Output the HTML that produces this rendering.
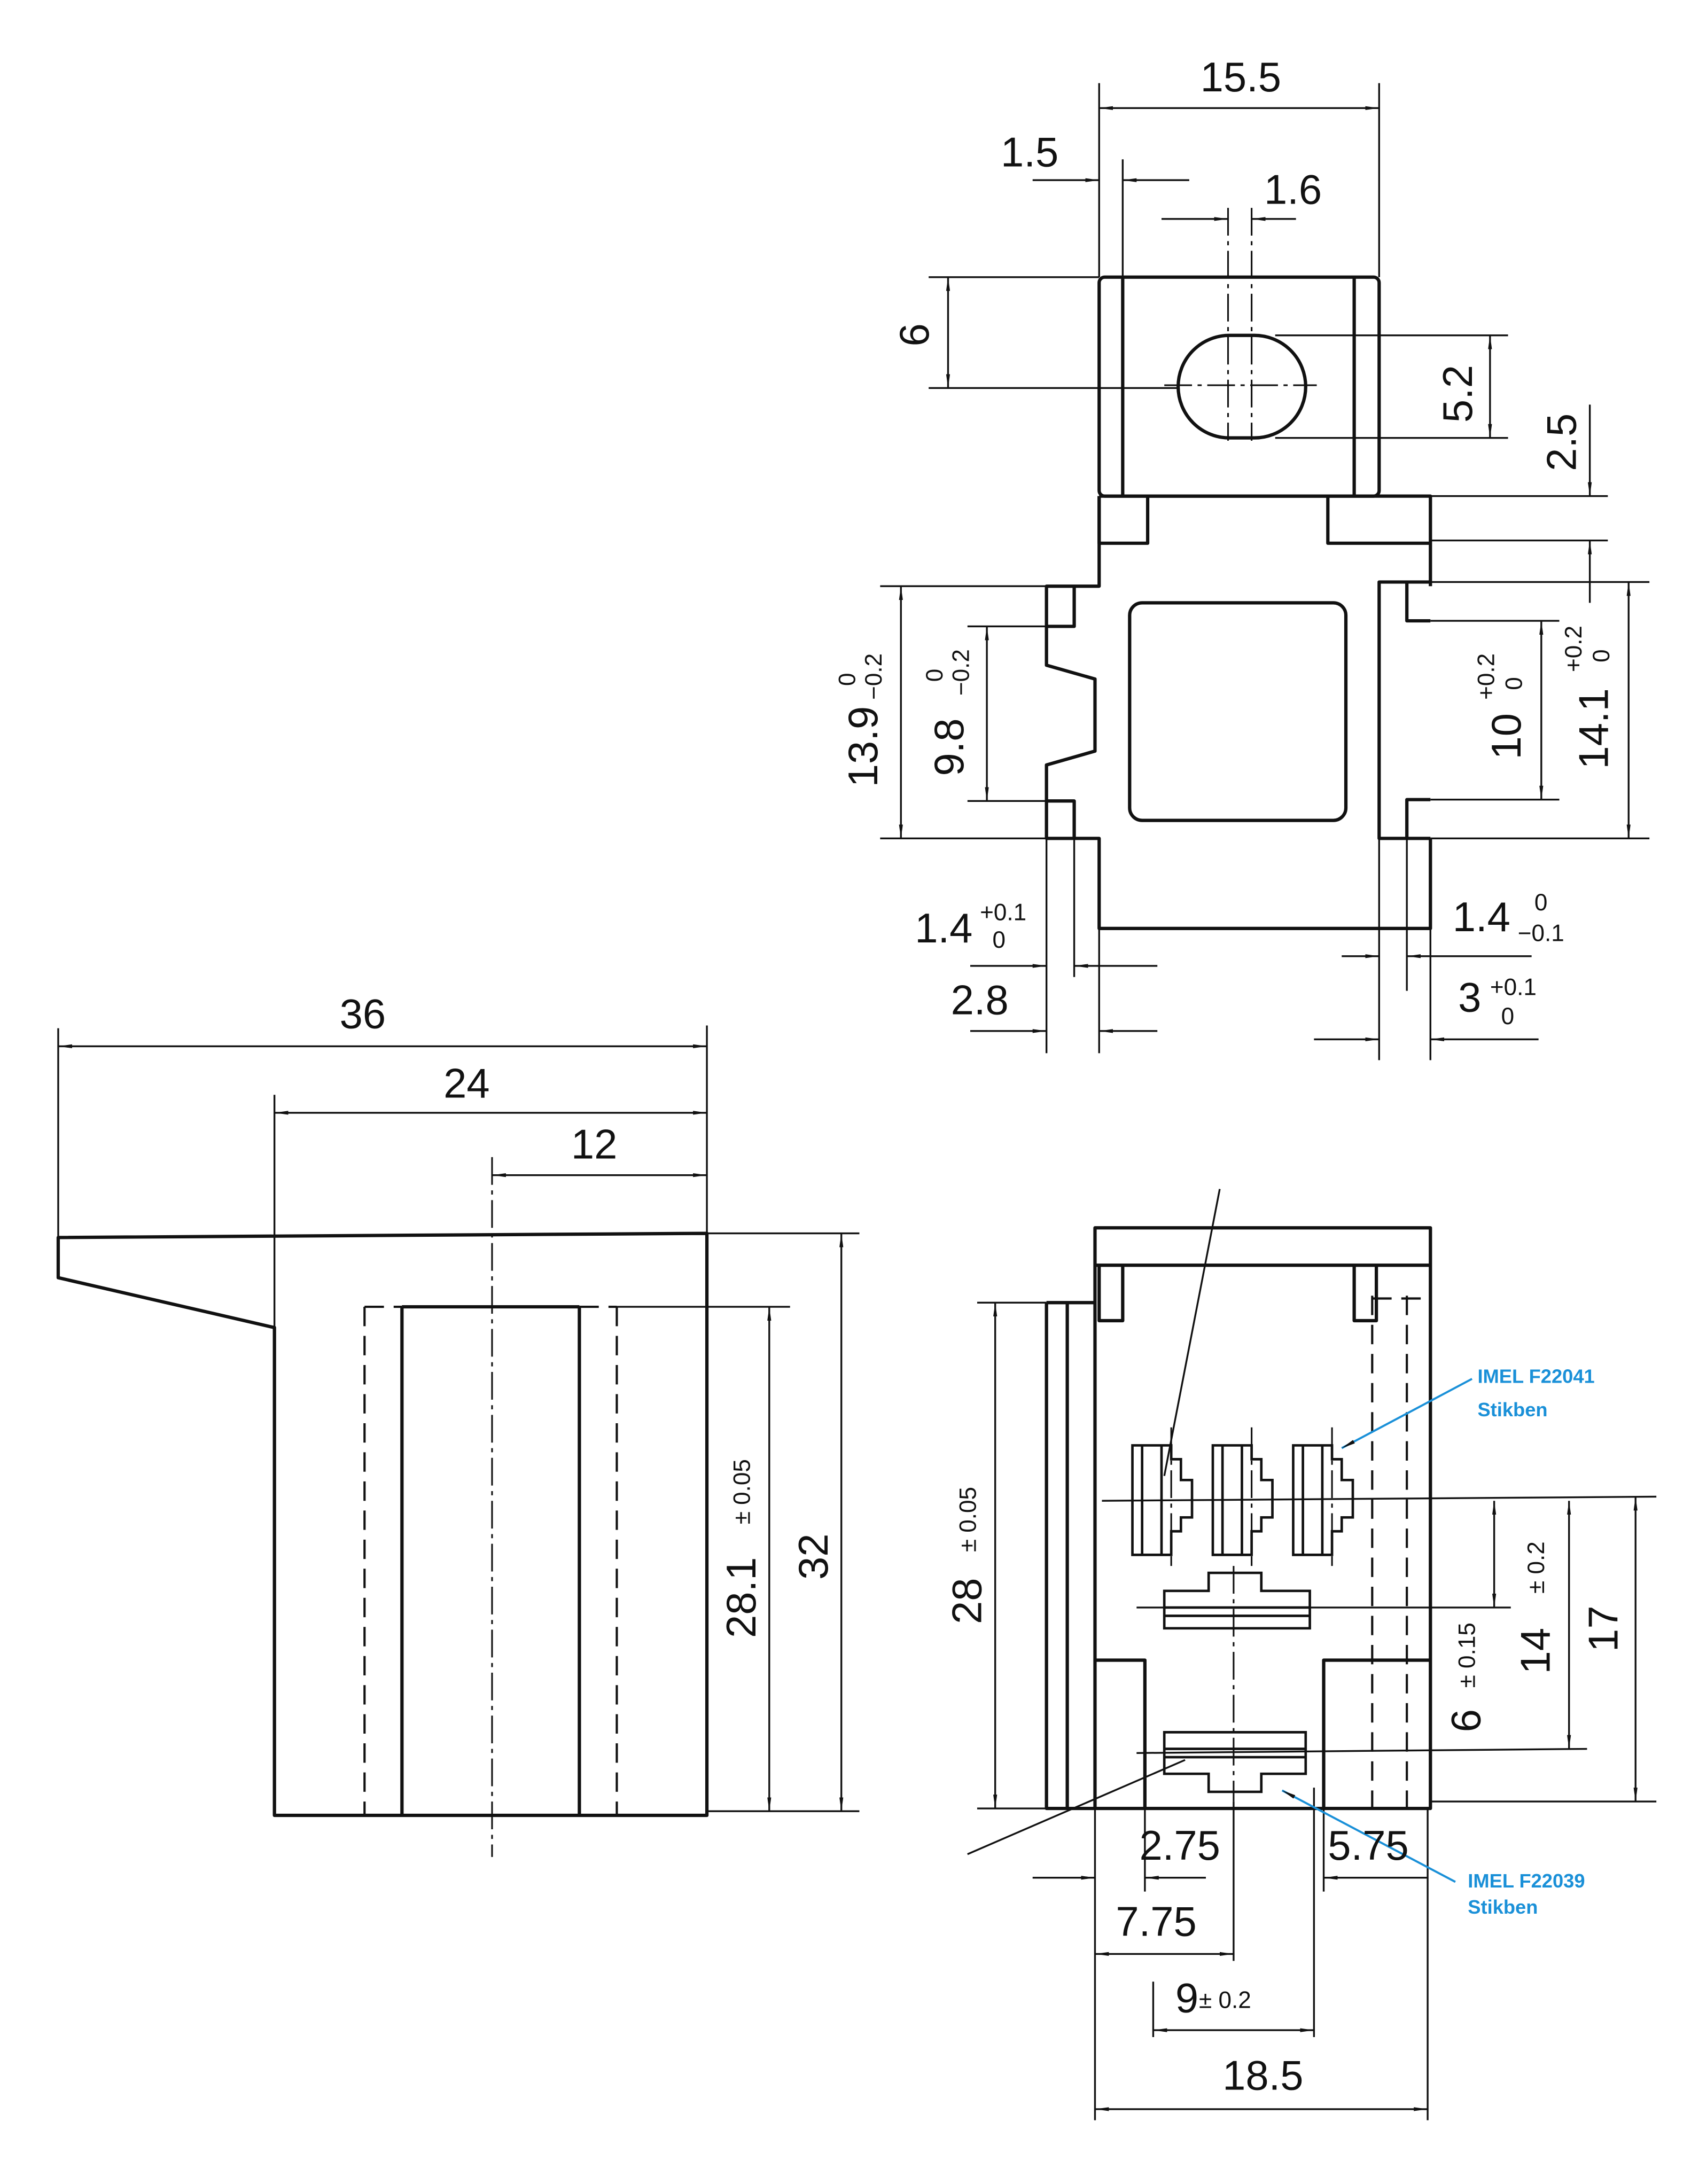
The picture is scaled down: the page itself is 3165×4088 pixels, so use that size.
<!DOCTYPE html>
<html><head><meta charset="utf-8"><style>
html,body{margin:0;padding:0;background:#fff;}
svg{display:block;}
text{font-family:"Liberation Sans",sans-serif;fill:#111;}
</style></head><body>
<svg width="3165" height="4088" viewBox="0 0 1220 1576" preserveAspectRatio="none" xmlns="http://www.w3.org/2000/svg">
<defs>
<marker id="a" viewBox="0 0 10 4" refX="10" refY="2" markerWidth="10" markerHeight="4" orient="auto-start-reverse" markerUnits="userSpaceOnUse"><path d="M0,0.6 L10,2 L0,3.4z" fill="#111"/></marker>
</defs>
<g fill="none" stroke="#111" stroke-width="2.4" stroke-linejoin="round">
<rect x="793" y="200" width="202" height="158" rx="4"/>
<line x1="810" y1="200" x2="810" y2="358"/>
<line x1="977" y1="200" x2="977" y2="358"/>
<rect x="850" y="242" width="92" height="74" rx="37"/>
<path d="M793,358 L1032,358 L1032,423 M1032,605 L1032,670 L793,670 L793,605 L755,605 L755,578 L755,552 L790,542 L790,490 L755,480 L755,423 L793,423 L793,358"/>
<path d="M793,358 L793,392 L828,392 L828,358 M958,358 L958,392 L1032,392"/>
<path d="M755,452 L775,452 L775,423 M755,578 L775,578 L775,605"/>
<path d="M1032,420 L995,420 L995,605 L1032,605 M1015,420 L1015,448 L1032,448 M1015,605 L1015,577 L1032,577"/>
<rect x="815" y="435" width="156" height="157" rx="9"/>
<path d="M42,893 L510,890 L510,1310 L198,1310 L198,958 L42,922 Z"/>
<line x1="290" y1="943" x2="290" y2="1310"/>
<line x1="418" y1="943" x2="418" y2="1310"/>
<line x1="290" y1="943" x2="418" y2="943"/>
<rect x="790" y="886" width="242" height="419"/>
<line x1="790" y1="913" x2="1032" y2="913"/>
<path d="M793,913 L793,953 L810,953 L810,913 M977,913 L977,953 L993,953 L993,913"/>
<path d="M755,940 L790,940 M755,940 L755,1305 L790,1305 M770,940 L770,1305"/>
<path d="M790,1198 L826,1198 L826,1305 M1032,1198 L955,1198 L955,1305"/>
</g>
<g fill="none" stroke="#111" stroke-width="1.8">
<g id="t"><path d="M817,1043 L845,1043 L845,1053 L852,1053 L852,1068 L860,1068 L860,1095 L852,1095 L852,1105 L845,1105 L845,1122 L817,1122 Z M824,1043 L824,1122 M838,1043 L838,1122"/></g>
<use href="#t" transform="translate(58,0)"/>
<use href="#t" transform="translate(116,0)"/>
<path d="M840,1148 L872,1148 L872,1135 L910,1135 L910,1148 L945,1148 L945,1175 L840,1175 Z M840,1160 L945,1160 M840,1166 L945,1166"/>
<path d="M840,1250 L942,1250 L942,1280 L910,1280 L910,1293 L872,1293 L872,1280 L840,1280 Z M840,1262 L942,1262 M840,1268 L942,1268"/>
</g>
<g fill="none" stroke="#111" stroke-width="1.6" stroke-dasharray="14,7">
<line x1="263" y1="943" x2="263" y2="1310"/>
<line x1="445" y1="943" x2="445" y2="1310"/>
<line x1="263" y1="943" x2="290" y2="943"/>
<line x1="418" y1="943" x2="445" y2="943"/>
<line x1="990" y1="935" x2="990" y2="1305"/>
<line x1="1015" y1="935" x2="1015" y2="1305"/>
<line x1="990" y1="937" x2="1032" y2="937"/>
</g>
<g fill="none" stroke="#111" stroke-width="1.2" stroke-dasharray="20,4,3,4">
<line x1="355" y1="835" x2="355" y2="1340"/>
<line x1="886" y1="150" x2="886" y2="318"/>
<line x1="903" y1="150" x2="903" y2="318"/>
<line x1="840" y1="278" x2="950" y2="278"/>
<line x1="845" y1="1030" x2="845" y2="1130"/>
<line x1="903" y1="1030" x2="903" y2="1130"/>
<line x1="961" y1="1030" x2="961" y2="1130"/>
<line x1="890" y1="1130" x2="890" y2="1300"/>
</g>
<g fill="none" stroke="#111" stroke-width="1.3">
<line x1="793" y1="60" x2="793" y2="200"/><line x1="995" y1="60" x2="995" y2="200"/>
<line x1="793" y1="78" x2="995" y2="78" marker-start="url(#a)" marker-end="url(#a)"/>
<line x1="810" y1="115" x2="810" y2="200"/>
<line x1="745" y1="130" x2="793" y2="130" marker-end="url(#a)"/>
<line x1="858" y1="130" x2="810" y2="130" marker-end="url(#a)"/>
<line x1="838" y1="158" x2="886" y2="158" marker-end="url(#a)"/>
<line x1="935" y1="158" x2="903" y2="158" marker-end="url(#a)"/>
<line x1="670" y1="200" x2="793" y2="200"/><line x1="670" y1="280" x2="850" y2="280"/>
<line x1="684" y1="200" x2="684" y2="280" marker-start="url(#a)" marker-end="url(#a)"/>
<line x1="920" y1="242" x2="1088" y2="242"/><line x1="920" y1="316" x2="1088" y2="316"/>
<line x1="1075" y1="242" x2="1075" y2="316" marker-start="url(#a)" marker-end="url(#a)"/>
<line x1="1032" y1="358" x2="1160" y2="358"/><line x1="1032" y1="390" x2="1160" y2="390"/>
<line x1="1147" y1="292" x2="1147" y2="358" marker-end="url(#a)"/>
<line x1="1147" y1="435" x2="1147" y2="390" marker-end="url(#a)"/>
<line x1="635" y1="423" x2="755" y2="423"/><line x1="635" y1="605" x2="755" y2="605"/>
<line x1="650" y1="423" x2="650" y2="605" marker-start="url(#a)" marker-end="url(#a)"/>
<line x1="698" y1="452" x2="755" y2="452"/><line x1="698" y1="578" x2="755" y2="578"/>
<line x1="712" y1="452" x2="712" y2="578" marker-start="url(#a)" marker-end="url(#a)"/>
<line x1="1032" y1="420" x2="1190" y2="420"/><line x1="1032" y1="605" x2="1190" y2="605"/>
<line x1="1175" y1="420" x2="1175" y2="605" marker-start="url(#a)" marker-end="url(#a)"/>
<line x1="1032" y1="448" x2="1125" y2="448"/><line x1="1032" y1="577" x2="1125" y2="577"/>
<line x1="1112" y1="448" x2="1112" y2="577" marker-start="url(#a)" marker-end="url(#a)"/>
<line x1="755" y1="605" x2="755" y2="760"/><line x1="775" y1="605" x2="775" y2="705"/><line x1="793" y1="670" x2="793" y2="760"/>
<line x1="700" y1="697" x2="755" y2="697" marker-end="url(#a)"/>
<line x1="835" y1="697" x2="775" y2="697" marker-end="url(#a)"/>
<line x1="700" y1="744" x2="755" y2="744" marker-end="url(#a)"/>
<line x1="835" y1="744" x2="793" y2="744" marker-end="url(#a)"/>
<line x1="995" y1="605" x2="995" y2="765"/><line x1="1015" y1="605" x2="1015" y2="715"/><line x1="1032" y1="670" x2="1032" y2="765"/>
<line x1="968" y1="690" x2="995" y2="690" marker-end="url(#a)"/>
<line x1="1105" y1="690" x2="1015" y2="690" marker-end="url(#a)"/>
<line x1="948" y1="750" x2="995" y2="750" marker-end="url(#a)"/>
<line x1="1110" y1="750" x2="1032" y2="750" marker-end="url(#a)"/>
<line x1="42" y1="742" x2="42" y2="893"/><line x1="510" y1="740" x2="510" y2="890"/>
<line x1="198" y1="790" x2="198" y2="958"/>
<line x1="42" y1="755" x2="510" y2="755" marker-start="url(#a)" marker-end="url(#a)"/>
<line x1="198" y1="803" x2="510" y2="803" marker-start="url(#a)" marker-end="url(#a)"/>
<line x1="355" y1="848" x2="510" y2="848" marker-start="url(#a)" marker-end="url(#a)"/>
<line x1="510" y1="890" x2="620" y2="890"/><line x1="445" y1="943" x2="570" y2="943"/><line x1="510" y1="1307" x2="620" y2="1307"/>
<line x1="555" y1="943" x2="555" y2="1307" marker-start="url(#a)" marker-end="url(#a)"/>
<line x1="607" y1="890" x2="607" y2="1307" marker-start="url(#a)" marker-end="url(#a)"/>
<line x1="705" y1="940" x2="755" y2="940"/><line x1="705" y1="1305" x2="755" y2="1305"/>
<line x1="718" y1="940" x2="718" y2="1305" marker-start="url(#a)" marker-end="url(#a)"/>
<line x1="795" y1="1083" x2="1195" y2="1080"/>
<line x1="820" y1="1160" x2="1090" y2="1160"/>
<line x1="820" y1="1265" x2="1145" y2="1262"/>
<line x1="1032" y1="1300" x2="1195" y2="1300"/>
<line x1="1078" y1="1083" x2="1078" y2="1160" marker-start="url(#a)" marker-end="url(#a)"/>
<line x1="1132" y1="1083" x2="1132" y2="1262" marker-start="url(#a)" marker-end="url(#a)"/>
<line x1="1180" y1="1080" x2="1180" y2="1300" marker-start="url(#a)" marker-end="url(#a)"/>
<line x1="790" y1="1305" x2="790" y2="1530"/><line x1="1030" y1="1305" x2="1030" y2="1530"/>
<line x1="826" y1="1305" x2="826" y2="1365"/><line x1="955" y1="1305" x2="955" y2="1365"/>
<line x1="890" y1="1300" x2="890" y2="1415"/><line x1="832" y1="1430" x2="832" y2="1470"/><line x1="948" y1="1290" x2="948" y2="1470"/>
<line x1="745" y1="1355" x2="790" y2="1355" marker-end="url(#a)"/>
<line x1="870" y1="1355" x2="826" y2="1355" marker-end="url(#a)"/>
<line x1="1030" y1="1355" x2="955" y2="1355" marker-end="url(#a)"/>
<line x1="790" y1="1410" x2="890" y2="1410" marker-start="url(#a)" marker-end="url(#a)"/>
<line x1="832" y1="1465" x2="948" y2="1465" marker-start="url(#a)" marker-end="url(#a)"/>
<line x1="790" y1="1522" x2="1030" y2="1522" marker-start="url(#a)" marker-end="url(#a)"/>
<line x1="880" y1="858" x2="840" y2="1065"/>
<line x1="698" y1="1338" x2="855" y2="1270"/>
</g>
<g stroke="#1a90d8" stroke-width="1.5" fill="none">
<line x1="1062" y1="995" x2="968" y2="1045" marker-end="url(#a)"/>
<line x1="1050" y1="1358" x2="925" y2="1292" marker-end="url(#a)"/>
</g>
<g font-size="30">
<text x="866" y="66">15.5</text>
<text x="722" y="120">1.5</text>
<text x="912" y="147">1.6</text>
<text x="660" y="680">1.4</text>
<text x="686" y="732">2.8</text>
<text x="1048" y="672">1.4</text>
<text x="1052" y="730">3</text>
<text x="245" y="742">36</text>
<text x="320" y="792">24</text>
<text x="412" y="836">12</text>
<text x="822" y="1342">2.75</text>
<text x="958" y="1342">5.75</text>
<text x="805" y="1397">7.75</text>
<text x="848" y="1452">9</text>
<text x="882" y="1508">18.5</text>
<text transform="translate(670,250) rotate(-90)">6</text>
<text transform="translate(1062,305) rotate(-90)">5.2</text>
<text transform="translate(1137,340) rotate(-90)">2.5</text>
<text transform="translate(633,568) rotate(-90)">13.9</text>
<text transform="translate(695,560) rotate(-90)">9.8</text>
<text transform="translate(1097,548) rotate(-90)">10</text>
<text transform="translate(1160,555) rotate(-90)">14.1</text>
<text transform="translate(545,1182) rotate(-90)">28.1</text>
<text transform="translate(597,1140) rotate(-90)">32</text>
<text transform="translate(708,1172) rotate(-90)">28</text>
<text transform="translate(1118,1208) rotate(-90)">14</text>
<text transform="translate(1068,1250) rotate(-90)">6</text>
<text transform="translate(1167,1192) rotate(-90)">17</text>
</g>
<g font-size="17">
<text x="707" y="664">+0.1</text><text x="716" y="684">0</text>
<text x="1107" y="657">0</text><text x="1095" y="679">−0.1</text>
<text x="1075" y="718">+0.1</text><text x="1083" y="739">0</text>
<text x="865" y="1449">± 0.2</text>
<text transform="translate(617,495) rotate(-90)">0</text><text transform="translate(636,505) rotate(-90)">−0.2</text>
<text transform="translate(680,492) rotate(-90)">0</text><text transform="translate(699,502) rotate(-90)">−0.2</text>
<text transform="translate(1078,505) rotate(-90)">+0.2</text><text transform="translate(1098,498) rotate(-90)">0</text>
<text transform="translate(1141,485) rotate(-90)">+0.2</text><text transform="translate(1161,478) rotate(-90)">0</text>
<text transform="translate(541,1100) rotate(-90)">± 0.05</text>
<text transform="translate(704,1120) rotate(-90)">± 0.05</text>
<text transform="translate(1114,1150) rotate(-90)">± 0.2</text>
<text transform="translate(1064,1218) rotate(-90)">± 0.15</text>
</g>
<g font-size="14" font-weight="bold">
<text x="1066" y="998" style="fill:#1a90d8">IMEL F22041</text>
<text x="1066" y="1022" style="fill:#1a90d8">Stikben</text>
<text x="1059" y="1362" style="fill:#1a90d8">IMEL F22039</text>
<text x="1059" y="1381" style="fill:#1a90d8">Stikben</text>
</g>
</svg>
</body></html>
